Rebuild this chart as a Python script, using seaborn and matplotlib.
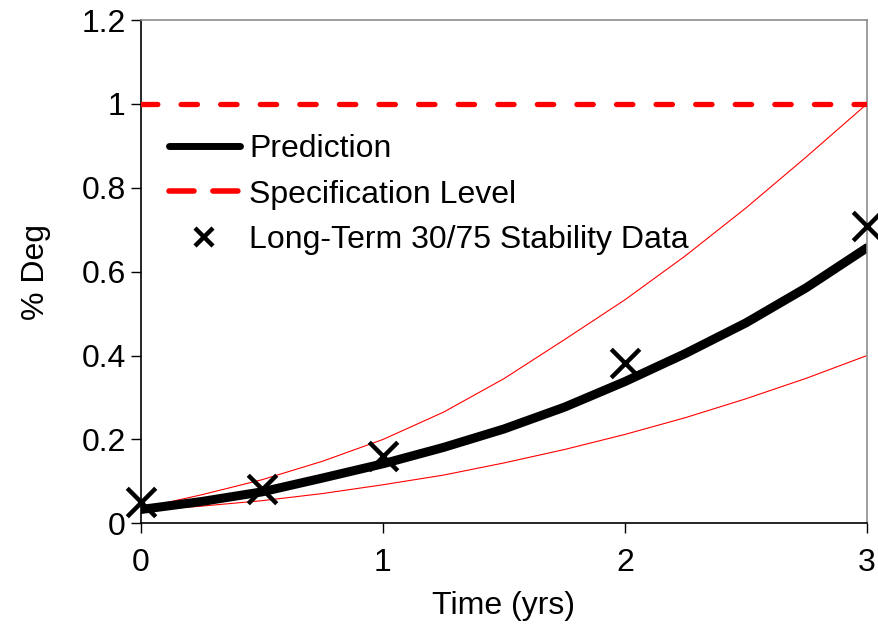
import numpy as np
import pandas as pd
import matplotlib
matplotlib.use("Agg")
import matplotlib.pyplot as plt
import seaborn as sns
from matplotlib.lines import Line2D
from matplotlib.ticker import FuncFormatter

# --- Values ---
years = [0, 0.25, 0.5, 0.75, 1.0, 1.25, 1.5, 1.75, 2.0, 2.25, 2.5, 2.75, 3.0]
prediction = [0.033, 0.052, 0.075, 0.108, 0.142, 0.181, 0.225, 0.277, 0.338, 0.405, 0.478, 0.562, 0.657]
upper_band = [0.036, 0.068, 0.104, 0.148, 0.200, 0.265, 0.345, 0.438, 0.533, 0.638, 0.752, 0.874, 1.000]
lower_band = [0.030, 0.041, 0.054, 0.071, 0.092, 0.115, 0.144, 0.176, 0.212, 0.252, 0.297, 0.346, 0.400]

spec_years = [0, 3]
spec_level = [1.0, 1.0]

data_years = [0, 0.5, 1, 2, 3]
data_deg = [0.050, 0.082, 0.160, 0.382, 0.710]

curves = pd.DataFrame({"years": years, "prediction": prediction,
                       "upper": upper_band, "lower": lower_band})
points = pd.DataFrame({"years": data_years, "deg": data_deg})

sns.set_style("white")
plt.rcParams["font.family"] = ["Liberation Sans", "DejaVu Sans"]
plt.rcParams["text.color"] = "black"
plt.rcParams["axes.labelcolor"] = "black"
plt.rcParams["xtick.color"] = "black"
plt.rcParams["ytick.color"] = "black"

FS = 23

fig = plt.figure(figsize=(8.79, 6.26), dpi=100)
ax = fig.add_axes([0.1604, 0.164, 0.8259, 0.804])

# --- Bands, prediction, spec line ---
sns.lineplot(data=curves, x="years", y="upper", color="red", linewidth=0.8, ax=ax)
sns.lineplot(data=curves, x="years", y="lower", color="red", linewidth=0.8, ax=ax)
sns.lineplot(data=curves, x="years", y="prediction", color="black", linewidth=6.5, ax=ax)
ax.plot(spec_years, spec_level, color="red", linewidth=3.8, dashes=(3.1, 4.4),
        dash_capstyle="round", zorder=3)

# --- Stability data ---
sns.scatterplot(data=points, x="years", y="deg", marker="x", s=420, color="black",
                linewidth=3.2, ax=ax, zorder=5, clip_on=False)

ax.set_xlim(0, 3)
ax.set_ylim(0, 1.2)
ax.set_xticks([0, 1, 2, 3])
ax.set_yticks([0, 0.2, 0.4, 0.6, 0.8, 1.0, 1.2])
ax.yaxis.set_major_formatter(FuncFormatter(lambda v, p: "%g" % v))
ax.tick_params(axis="both", direction="out", length=7, width=1, labelsize=FS,
               left=True, bottom=True)
ax.tick_params(axis="x", pad=11)
ax.tick_params(axis="y", pad=4)
ax.set_xlabel("Time (yrs)", fontsize=FS, labelpad=9)
ax.set_ylabel("% Deg", fontsize=FS, labelpad=22)

ax.spines["left"].set_color("black")
ax.spines["bottom"].set_color("black")
ax.spines["top"].set_color("#8c8c8c")
ax.spines["right"].set_color("#8c8c8c")
for s in ax.spines.values():
    s.set_linewidth(1.2)

# --- Legend ---
handles = [
    Line2D([], [], color="black", linewidth=5, solid_capstyle="round"),
    Line2D([], [], color="red", linewidth=4, dashes=(4.5, 3.4), dash_capstyle="round"),
    Line2D([], [], color="black", marker="x", linestyle="none", markersize=13, markeredgewidth=3.2),
]
labels = ["Prediction", "Specification Level", "Long-Term 30/75 Stability Data"]
ax.legend(handles, labels, loc="upper left", bbox_to_anchor=(0.039, 0.773), frameon=False,
          fontsize=FS, handlelength=2.2, handletextpad=0.3, labelspacing=0.48,
          borderaxespad=0, borderpad=0)

fig.savefig("out.png", dpi=100)
